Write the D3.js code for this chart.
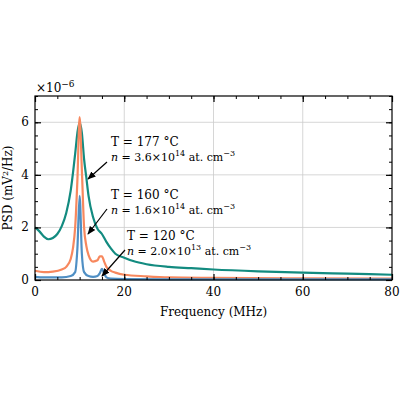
<!DOCTYPE html>
<html><head><meta charset="utf-8">
<script src="https://cdn.jsdelivr.net/npm/d3@7"></script>
<style>body{margin:0;background:#fff}svg text{font-family:"DejaVu Serif",serif;fill:#000}</style>
</head><body><div id="chart"></div>
<script>
// frequency (MHz) and PSD (x1e-6 mV^2/Hz)
const tealF = [0,1,2,3,4,5,6,7,8,9,9.5,10,10.5,11,11.5,12,13,14,15,16,17,18,20,22,25,30,35,40,50,60,70,80];
const tealV = [2.0,1.85,1.65,1.55,1.6,1.75,2.05,2.55,3.4,4.8,5.6,6.0,5.6,4.6,3.9,3.2,2.4,1.95,1.75,1.45,1.2,1.0,0.85,0.72,0.6,0.5,0.45,0.4,0.33,0.28,0.24,0.2];
const orangeF = [0,2,4,6,7,8,8.5,9,9.5,10,10.5,11,11.5,12,13,14,14.5,15,15.5,16,17,18,20,25,30,40,60,80];
const orangeV = [0.35,0.3,0.32,0.4,0.5,0.8,1.2,2.0,3.8,6.2,4.2,2.0,1.3,0.95,0.7,0.75,0.9,0.9,0.7,0.5,0.35,0.28,0.2,0.14,0.1,0.08,0.06,0.05];
const blueF = [0,2,4,6,8,9,9.5,10,10.5,11,12,13,14,14.5,15,15.5,16,17,20,30,50,80];
const blueV = [0.12,0.1,0.1,0.1,0.15,0.3,1.2,3.2,1.0,0.3,0.15,0.12,0.15,0.25,0.42,0.25,0.1,0.05,0.03,0.02,0.02,0.02];
const xTicks = [0,20,40,60,80];
const yTicks = [0,2,4,6];

const W = 400, H = 400, m = {l:35, r:8, t:96, b:120};
const svg = d3.select("#chart").append("svg").attr("width", W).attr("height", H);
const x = d3.scaleLinear().domain([0,80]).range([m.l, W-m.r]);
const y = d3.scaleLinear().domain([0,7]).range([H-m.b, m.t]);

// grid
svg.append("g").selectAll("line").data(xTicks.slice(1,-1)).join("line")
  .attr("x1", d=>x(d)).attr("x2", d=>x(d)).attr("y1", m.t).attr("y2", H-m.b)
  .attr("stroke", "#ccc").attr("stroke-width", 0.8);
svg.append("g").selectAll("line").data(yTicks.slice(1)).join("line")
  .attr("y1", d=>y(d)).attr("y2", d=>y(d)).attr("x1", m.l).attr("x2", W-m.r)
  .attr("stroke", "#ccc").attr("stroke-width", 0.8);

const line = d3.line().x(d=>x(d[0])).y(d=>y(d[1])).curve(d3.curveMonotoneX);
const series = [[tealF,tealV,"#138b80"],[orangeF,orangeV,"#f7885e"],[blueF,blueV,"#4f8fc4"]];
series.forEach(([f,v,c]) => {
  svg.append("path").datum(d3.zip(f,v)).attr("d", line)
    .attr("fill","none").attr("stroke",c).attr("stroke-width",2.2);
});

// axes with inward ticks on all sides
function ticks(axis, tr, major, minor) {
  svg.append("g").attr("transform", tr).call(axis.tickValues(minor).tickSize(3).tickFormat(""))
    .call(g=>g.select(".domain").remove());
  const g = svg.append("g").attr("transform", tr).call(axis.tickValues(major).tickSize(6).tickFormat(""));
  g.selectAll("line").attr("stroke-width",1.2);
  g.select(".domain").remove();
}
const xMinor = d3.range(0,81,5), yMinor = d3.range(0,7.01,0.5);
ticks(d3.axisTop(x), `translate(0,${H-m.b})`, xTicks, xMinor);
ticks(d3.axisBottom(x), `translate(0,${m.t})`, xTicks, xMinor);
ticks(d3.axisRight(y), `translate(${m.l},0)`, yTicks, yMinor);
ticks(d3.axisLeft(y), `translate(${W-m.r},0)`, yTicks, yMinor);
svg.append("rect").attr("x",m.l).attr("y",m.t).attr("width",W-m.l-m.r).attr("height",H-m.t-m.b)
  .attr("fill","none").attr("stroke","#000").attr("stroke-width",1.2);

svg.append("g").selectAll("text").data(xTicks).join("text")
  .attr("x", d=>x(d)).attr("y", H-m.b+16).attr("text-anchor","middle").attr("font-size",12).text(d=>d);
svg.append("g").selectAll("text").data(yTicks).join("text")
  .attr("x", m.l-6).attr("y", d=>y(d)+4).attr("text-anchor","end").attr("font-size",12).text(d=>d);
svg.append("text").attr("x", 36).attr("y", 92).attr("font-size",12).html('×10<tspan dy="-5" font-size="9">−6</tspan>');
svg.append("text").attr("x", (m.l+W-m.r)/2).attr("y", 316).attr("text-anchor","middle").attr("font-size",12).text("Frequency (MHz)");
svg.append("text").attr("transform", `translate(12,${(m.t+H-m.b)/2}) rotate(-90)`).attr("text-anchor","middle").attr("font-size",12)
  .html('PSD (mV<tspan dy="-4" font-size="8">2</tspan><tspan dy="4">/Hz)</tspan>');

// annotations
const notes = [
  {t:"177", n:"3.6", e:"14", tx:111, ty:146, a:[107,162,88,179]},
  {t:"160", n:"1.6", e:"14", tx:111, ty:199, a:[107,209,88,234]},
  {t:"120", n:"2.0", e:"13", tx:127, ty:240, a:[125,250,102,276]}
];
svg.append("defs").append("marker").attr("id","ah").attr("viewBox","0 0 10 10").attr("refX",9).attr("refY",5)
  .attr("markerWidth",7).attr("markerHeight",7).attr("orient","auto")
  .append("path").attr("d","M0,1 L10,5 L0,9 z").attr("fill","#000");
notes.forEach(d => {
  svg.append("text").attr("x", d.tx).attr("y", d.ty).attr("font-size",12).text(`T = ${d.t} °C`);
  svg.append("text").attr("x", d.tx).attr("y", d.ty+15).attr("font-size",11)
    .html(`<tspan font-style="italic">n</tspan> = ${d.n}×10<tspan dy="-5" font-size="8">${d.e}</tspan><tspan dy="5"> at. cm</tspan><tspan dy="-5" font-size="8">−3</tspan>`);
  svg.append("line").attr("x1",d.a[0]).attr("y1",d.a[1]).attr("x2",d.a[2]).attr("y2",d.a[3])
    .attr("stroke","#000").attr("stroke-width",1.2).attr("marker-end","url(#ah)");
});
</script></body></html>
